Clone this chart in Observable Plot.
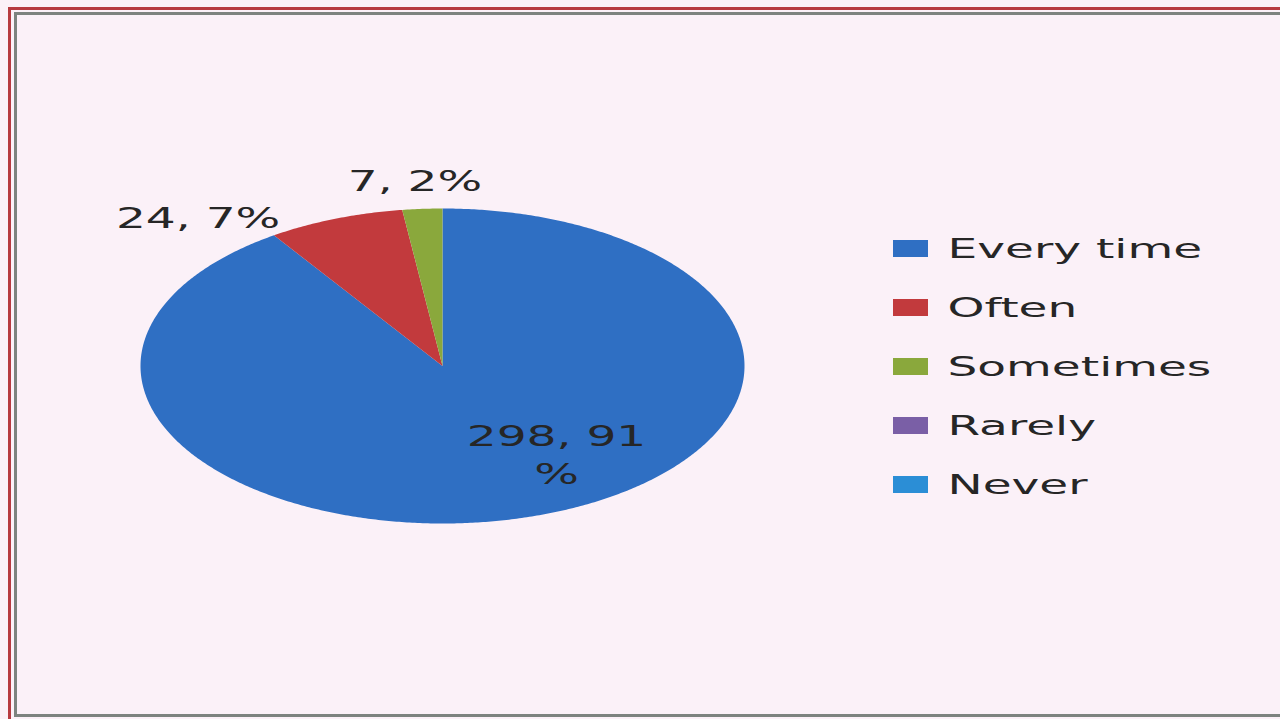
<!DOCTYPE html>
<html><head><meta charset="utf-8">
<script src="https://cdn.jsdelivr.net/npm/d3@7"></script>
<script src="https://cdn.jsdelivr.net/npm/@observablehq/plot@0.6"></script>
<style>
html,body{margin:0;padding:0;background:#fbf1f8;overflow:hidden}
#wrap{position:relative;width:1280px;height:719px;background:#fbf1f8;overflow:hidden}
.red{position:absolute;left:8px;top:7px;width:1300px;height:740px;border:3px solid #b73a40;box-sizing:border-box}
.gray{position:absolute;left:14px;top:12px;width:1300px;height:705px;border:3px solid #7d837f;box-sizing:border-box}
#pie,#legend{position:absolute;left:0;top:0}
</style></head>
<body><div id="wrap"><div class="red"></div><div class="gray"></div><div id="pie"></div><div id="legend"></div></div>
<script>
// ---- data ----
const categories = ["Every time", "Often", "Sometimes", "Rarely", "Never"];
const counts = [298, 24, 7, 0, 0];
const percents = [91, 7, 2, 0, 0];
const colors = ["#2f6fc3", "#c23a3d", "#8aa83c", "#7a5fa6", "#2b8ed6"];

// ---- slice geometry (angles clockwise from 12 o'clock) ----
const total = d3.sum(counts);
const slices = [];
let acc = 0;
categories.forEach((c, i) => {
  const a0 = acc / total * 2 * Math.PI;
  acc += counts[i];
  const a1 = acc / total * 2 * Math.PI;
  slices.push({cat: c, count: counts[i], pct: percents[i], a0, a1, mid: (a0 + a1) / 2});
});
const pts = [];
for (const s of slices) {
  if (s.count <= 0) continue;
  pts.push({cat: s.cat, x: 0, y: 0});
  const n = Math.max(2, Math.ceil((s.a1 - s.a0) / (Math.PI / 360)));
  for (let k = 0; k <= n; k++) {
    const a = s.a0 + (s.a1 - s.a0) * k / n;
    pts.push({cat: s.cat, x: Math.sin(a), y: Math.cos(a)});
  }
  pts.push({cat: s.cat, x: 0, y: 0});
}
const labelR = {"Every time": 0.579, "Often": 1.0, "Sometimes": 1.168};
const labels = slices.filter(s => s.count > 0).map(s => ({
  cat: s.cat,
  x: labelR[s.cat] * Math.sin(s.mid),
  y: labelR[s.cat] * Math.cos(s.mid),
  text: s.pct > 50 ? `${s.count}, ${s.pct}\n%` : `${s.count}, ${s.pct}%`
}));

const font = "DejaVu Sans";
const labelStyle = {x: "x", y: "y", text: "text", fontFamily: font, fontSize: 28, fill: "#262626"};

const pie = Plot.plot({
  width: 1280, height: 719,
  marginTop: 0, marginRight: 0, marginBottom: 0, marginLeft: 0,
  style: {background: "transparent", overflow: "visible"},
  x: {domain: [-1, 1], range: [140, 744], axis: null},
  y: {domain: [-1, 1], range: [523, 208], axis: null},
  color: {domain: categories, range: colors},
  marks: [
    Plot.line(pts, {x: "x", y: "y", z: "cat", fill: "cat", stroke: "none", curve: "linear"}),
    Plot.text(labels.filter(d => d.cat === "Every time"), {...labelStyle, dx: 63, lineHeight: 1.36}),
    Plot.text(labels.filter(d => d.cat === "Often"), {...labelStyle, dx: -55, textAnchor: "end"}),
    Plot.text(labels.filter(d => d.cat === "Sometimes"), {...labelStyle, dx: -4})
  ]
});
document.getElementById("pie").append(pie);

const legend = Plot.plot({
  width: 1280, height: 719,
  marginTop: 0, marginRight: 0, marginBottom: 0, marginLeft: 0,
  style: {background: "transparent", overflow: "visible"},
  x: {domain: [0, 1], range: [893, 928], axis: null},
  y: {type: "band", domain: categories, range: [218.5, 513.5], paddingInner: 0.72, paddingOuter: 0.36, axis: null},
  color: {domain: categories, range: colors},
  marks: [
    Plot.barX(categories, {x1: 0, x2: 1, y: d => d, fill: d => d}),
    Plot.text(categories, {x: 1, y: d => d, text: d => d, dx: 19, textAnchor: "start", fontFamily: font, fontSize: 27, fill: "#262626"})
  ]
});
document.getElementById("legend").append(legend);

// horizontal stretch of the scanned lettering
function stretch(svg, f) {
  d3.select(svg).selectAll("text").each(function() {
    const tspans = this.querySelectorAll("tspan");
    const els = tspans.length ? Array.from(tspans) : [this];
    for (const el of els) {
      const len = el.getComputedTextLength();
      if (len > 0) {
        el.setAttribute("textLength", len * f);
        el.setAttribute("lengthAdjust", "spacingAndGlyphs");
      }
    }
  });
}
stretch(pie, 1.68);
stretch(legend, 1.74);
</script>
</body></html>
